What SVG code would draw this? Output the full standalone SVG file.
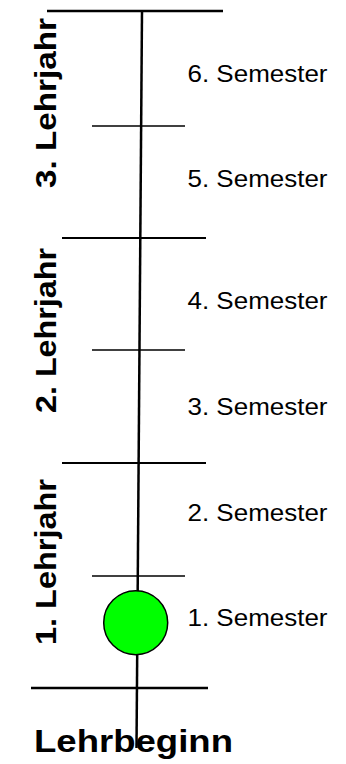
<svg xmlns="http://www.w3.org/2000/svg" width="346" height="764" viewBox="0 0 346 764">
<style>
.ln{stroke:#000;fill:none}
.sem{font-family:"Liberation Sans",Arial,sans-serif;font-size:24px;fill:#000}
.yr{font-family:"Liberation Sans",Arial,sans-serif;font-size:29px;font-weight:bold;fill:#000}
.big{font-family:"Liberation Sans",Arial,sans-serif;font-size:31px;font-weight:bold;fill:#000}
</style>
<rect width="346" height="764" fill="#fff"/>
<g id="connectors">
<line class="ln" x1="142" y1="11" x2="136.5" y2="748" stroke-width="2.5"/>
<line class="ln" x1="47" y1="11" x2="223" y2="11" stroke-width="2.5"/>
<line class="ln" x1="92" y1="126" x2="185" y2="126" stroke-width="1.5"/>
<line class="ln" x1="62" y1="238" x2="206" y2="238" stroke-width="2"/>
<line class="ln" x1="92" y1="350" x2="185" y2="350" stroke-width="1.5"/>
<line class="ln" x1="62" y1="463" x2="206" y2="463" stroke-width="2"/>
<line class="ln" x1="92" y1="576" x2="185" y2="576" stroke-width="1.5"/>
<line class="ln" x1="31" y1="688" x2="208" y2="688" stroke-width="2.5"/>
</g>
<g id="start-marker">
<circle cx="135.7" cy="622.7" r="32" fill="#00ff00" stroke="#000" stroke-width="1.5"/>
</g>
<g id="semesters">
<text class="sem" x="187.5" y="81.7" textLength="140" lengthAdjust="spacingAndGlyphs">6. Semester</text>
<text class="sem" x="187.5" y="186.7" textLength="140" lengthAdjust="spacingAndGlyphs">5. Semester</text>
<text class="sem" x="187.5" y="309.3" textLength="140" lengthAdjust="spacingAndGlyphs">4. Semester</text>
<text class="sem" x="187.5" y="415" textLength="140" lengthAdjust="spacingAndGlyphs">3. Semester</text>
<text class="sem" x="187.5" y="520.7" textLength="140" lengthAdjust="spacingAndGlyphs">2. Semester</text>
<text class="sem" x="187.5" y="626" textLength="140" lengthAdjust="spacingAndGlyphs">1. Semester</text>
</g>
<g id="year3"><text class="yr" transform="translate(56,188) rotate(-90)" textLength="170" lengthAdjust="spacingAndGlyphs">3. Lehrjahr</text></g>
<g id="year2"><text class="yr" transform="translate(56,413) rotate(-90)" textLength="165" lengthAdjust="spacingAndGlyphs">2. Lehrjahr</text></g>
<g id="year1"><text class="yr" transform="translate(56,645) rotate(-90)" textLength="166" lengthAdjust="spacingAndGlyphs">1. Lehrjahr</text></g>
<g id="lehrbeginn"><text class="big" x="34" y="752" textLength="199" lengthAdjust="spacingAndGlyphs">Lehrbeginn</text></g>
</svg>
